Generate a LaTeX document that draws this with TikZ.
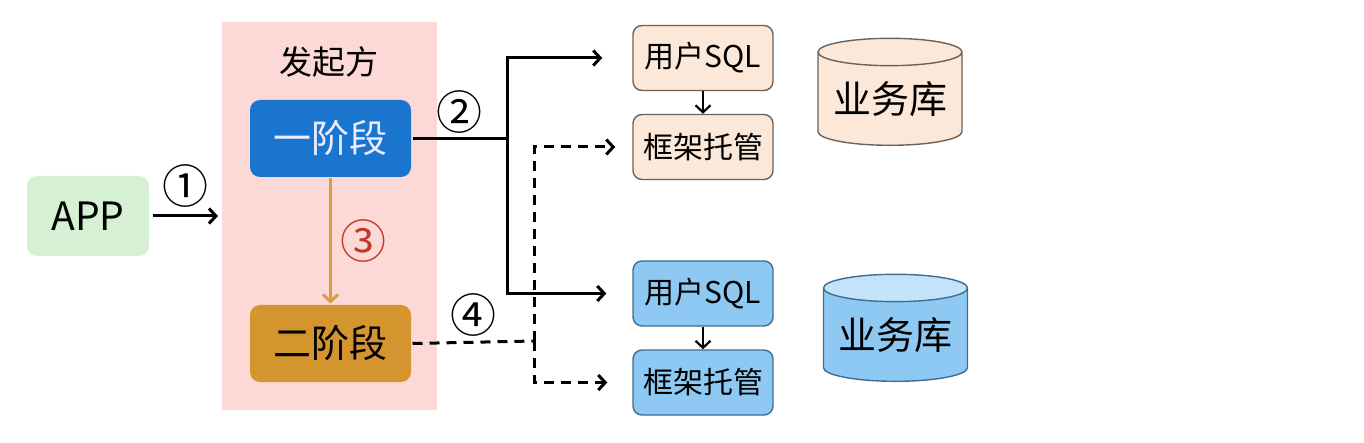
\documentclass[tikz,border=0pt]{standalone}
\usepackage{fontspec}
\setmainfont{Noto Sans CJK SC}
\usepackage{tikz}
\usepackage{xcolor}
\usetikzlibrary{calc}
\usetikzlibrary{shapes.geometric}
\usetikzlibrary{positioning}
\usetikzlibrary{arrows.meta}
\definecolor{panelpink}{HTML}{FCD9D6}
\definecolor{appgreen}{HTML}{D6F0D4}
\definecolor{stageblue}{HTML}{1A75CF}
\definecolor{stagegold}{HTML}{D4952F}
\definecolor{arrowgold}{HTML}{D89C42}
\definecolor{numred}{HTML}{C0392B}
\definecolor{peach}{HTML}{FBE8D8}
\definecolor{peachline}{HTML}{6E6258}
\definecolor{skyblue}{HTML}{8EC9F4}
\definecolor{skytop}{HTML}{C2E3FA}
\definecolor{skyline}{HTML}{3F6D91}

\begin{document}
\begin{tikzpicture}[x=1,y=-1,-,>={Straight Barb[length=7pt,width=15pt]},auto,line width=3,
	every node/.style={inner sep=0pt},
	stage/.style={rounded corners=10, minimum width=161, minimum height=77, font=\fontsize{38}{42}\selectfont},
	sub/.style={draw, line width=1.4, rounded corners=9, minimum width=140, minimum height=65, font=\fontsize{30}{34}\selectfont},
	db/.style={cylinder, shape border rotate=90, draw, line width=1.4, aspect=0.24, minimum width=144, minimum height=107, cylinder uses custom fill, font=\fontsize{38}{42}\selectfont},
	num/.style={font=\fontsize{46}{50}\selectfont}]

\useasboundingbox (0,0) rectangle (1364,443);

% left side
\node[fill=panelpink, minimum width=215, minimum height=388] (panel) at (329,216) {};
\node[font=\fontsize{33}{37}\selectfont] (title) at (329,62) {发起方};
\node[fill=appgreen, rounded corners=10, minimum width=122, minimum height=80, font=\fontsize{39}{43}\selectfont] (app) at (88,216) {APP};
\node[stage, fill=stageblue, text=blue!8] (s1) at (330.5,138.5) {一阶段};
\node[stage, fill=stagegold, text=black] (s2) at (330.5,343.5) {二阶段};

% right side
\def\colx{703}

\node[sub, fill=peach, draw=peachline] (sqlA) at (\colx,58) {用户SQL};
\node[sub, fill=peach, draw=peachline] (hostA) at (\colx,147) {框架托管};
\node[sub, fill=skyblue, draw=skyline] (sqlB) at (\colx,293.5) {用户SQL};
\node[sub, fill=skyblue, draw=skyline] (hostB) at (\colx,382.5) {框架托管};

\node[db, draw=peachline, cylinder body fill=peach, cylinder end fill=peach] (dbA) at (890,99) {业务库};
\node[db, draw=skyline, cylinder body fill=skyblue, cylinder end fill=skytop] (dbB) at (895.5,335) {业务库};

% connectors
\coordinate (fork) at (507,138.5);
\coordinate (dfork) at (534,341);

\draw[->, shorten <=2, shorten >=2] (app) -- (panel.west) node[num, midway, above=7pt] (n1) {①};
\draw[->, arrowgold] (s1) -- (s2) node[num, midway, right=8pt, text=numred] (n3) {③};
\draw (s1.east) -- (fork) node[num, midway, above=4pt] (n2) {②};
\draw[->, shorten >=30] (fork) |- (sqlA.west);
\draw[->, shorten >=26] (fork) |- (sqlB.west);
\draw[dashed, dash pattern=on 10 off 7] (s2.east) -- (dfork) node[num, midway, above=4pt] (n4) {④};
\draw[->, dashed, dash pattern=on 10 off 7, shorten >=17] (dfork) |- (hostA.west);
\draw[->, dashed, dash pattern=on 10 off 7, shorten >=25] (dfork) |- (hostB.west);
\draw[->, line width=2.2] (sqlA) -- (hostA);
\draw[->, line width=2.2] (sqlB) -- (hostB);

\end{tikzpicture}
\end{document}
